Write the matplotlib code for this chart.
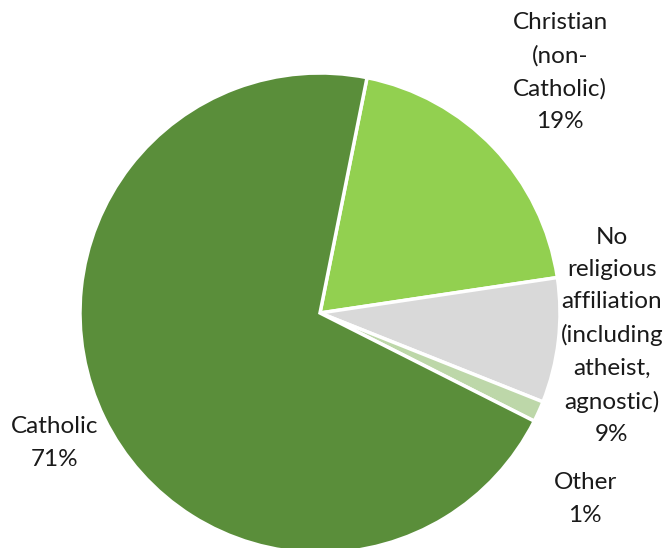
import matplotlib
matplotlib.use('Agg')
from matplotlib import pyplot as plt

categorias = ['Christian\n(non-\nCatholic)', 'No\nreligious\naffiliation\n(including\natheist,\nagnostic)', 'Other', 'Catholic']
valores = [19.5, 8.4, 1.4, 70.7]
etiquetas = ['19%', '9%', '1%', '71%']
colores = ['#92D050', '#D9D9D9', '#BDD7A9', '#5A8E3A']

# posiciones de las etiquetas en pixeles (centro del bloque)
pos_etiquetas = [(560, 72), (612, 336), (585, 499), (55, 443)]

W, H = 670, 548
cx, cy, r = 320, 313, 240

fig = plt.figure(figsize=(W / 100, H / 100), dpi=100)
ax = fig.add_axes([0, 0, 1, 1])
ax.pie(valores, colors=colores, startangle=78.7, counterclock=False,
       wedgeprops=dict(edgecolor='white', linewidth=2.5))
ax.set_xlim((0 - cx) / r, (W - cx) / r)
ax.set_ylim((cy - H) / r, cy / r)
ax.axis('off')

for cat, et, (px, py) in zip(categorias, etiquetas, pos_etiquetas):
    ax.text((px - cx) / r, (cy - py) / r, cat + '\n' + et, ha='center', va='center',
            fontsize=17.5, family=['Lato', 'DejaVu Sans'], color='#1a1a1a', linespacing=1.66)

fig.savefig('out.png', dpi=100)
